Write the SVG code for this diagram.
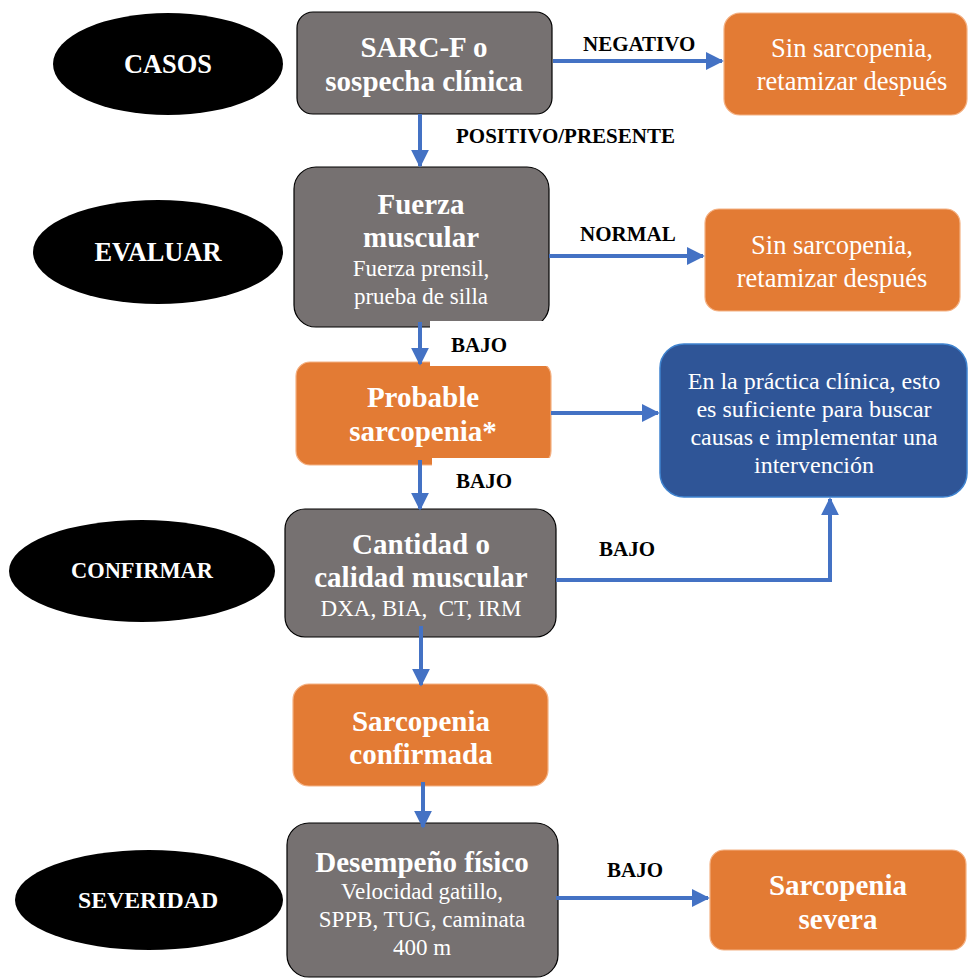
<svg xmlns="http://www.w3.org/2000/svg" width="968" height="979" viewBox="0 0 968 979">
<defs>
<style>
.gray{fill:#767171;stroke:#000;stroke-width:1.2}
.orange{fill:#E37B34;stroke:#F4B183;stroke-width:1.2}
.blue{fill:#2F5597;stroke:#3F83CF;stroke-width:1.5}
.ell{fill:#000}
text{font-family:"Liberation Serif","Times New Roman",serif;text-anchor:middle;fill:#fff}
.t{font-weight:bold;font-size:29px}
.s{font-size:23px}
.o{font-size:26.5px}
.b{font-size:24px}
.e{font-weight:bold;font-size:26.4px}
.lb{font-weight:bold;font-size:21px;fill:#000;text-anchor:start}
.c{fill:none;stroke:#4472C4;stroke-width:4}
</style>
<marker id="ah" viewBox="0 0 10 10" refX="9" refY="5" markerWidth="4.5" markerHeight="4.5" orient="auto" markerUnits="strokeWidth"><path d="M0,0L10,5L0,10z" fill="#4472C4"/></marker>
</defs>
<g id="casos"><ellipse class="ell" cx="168" cy="64" rx="115" ry="51"/><text class="e" x="168" y="73">CASOS</text></g>
<g id="evaluar"><ellipse class="ell" cx="158" cy="252" rx="125" ry="52"/><text class="e" x="158" y="261">EVALUAR</text></g>
<g id="confirmar"><ellipse class="ell" cx="142" cy="571" rx="133" ry="51"/><text class="e" x="142" y="578" style="font-size:22.4px">CONFIRMAR</text></g>
<g id="severidad"><ellipse class="ell" cx="149" cy="900" rx="134" ry="50"/><text class="e" x="148" y="908" style="font-size:23.8px">SEVERIDAD</text></g>

<g id="sarcf"><rect class="gray" x="297" y="12" width="255" height="102" rx="16"/><text class="t" x="424" y="57">SARC-F o</text><text class="t" x="424" y="91">sospecha clínica</text></g>
<g id="sin1"><rect class="orange" x="724" y="13" width="243" height="102" rx="16"/><text class="o" x="852" y="57">Sin sarcopenia,</text><text class="o" x="852" y="90">retamizar después</text></g>
<g id="fuerza"><rect class="gray" x="294" y="167" width="255" height="160" rx="22"/><text class="t" x="421" y="214">Fuerza</text><text class="t" x="421" y="247">muscular</text><text class="s" x="421" y="276">Fuerza prensil,</text><text class="s" x="421" y="304">prueba de silla</text></g>
<g id="sin2"><rect class="orange" x="705" y="209" width="255" height="102" rx="14"/><text class="o" x="832" y="254">Sin sarcopenia,</text><text class="o" x="832" y="287">retamizar después</text></g>
<g id="probable"><rect class="orange" x="296" y="362" width="255" height="103" rx="14"/><text class="t" x="423" y="407">Probable</text><text class="t" x="423" y="441">sarcopenia*</text></g>
<g id="practica"><rect class="blue" x="660" y="344" width="307" height="153" rx="24"/><text class="b" x="814" y="389">En la práctica clínica, esto</text><text class="b" x="814" y="417">es suficiente para buscar</text><text class="b" x="814" y="445">causas e implementar una</text><text class="b" x="814" y="473">intervención</text></g>
<g id="cantidad"><rect class="gray" x="285" y="509" width="271" height="128" rx="20"/><text class="t" x="421" y="554">Cantidad o</text><text class="t" x="421" y="587">calidad muscular</text><text class="s" x="421" y="616">DXA, BIA,&#160; CT, IRM</text></g>
<g id="confirmada"><rect class="orange" x="293" y="684" width="255" height="102" rx="16"/><text class="t" x="421" y="731">Sarcopenia</text><text class="t" x="421" y="764">confirmada</text></g>
<g id="desempeno"><rect class="gray" x="287" y="823" width="271" height="154" rx="22"/><text class="t" x="422" y="872">Desempeño físico</text><text class="s" x="422" y="899">Velocidad gatillo,</text><text class="s" x="422" y="927">SPPB, TUG, caminata</text><text class="s" x="422" y="955">400 m</text></g>
<g id="severa"><rect class="orange" x="710" y="850" width="256" height="100" rx="14"/><text class="t" x="838" y="895">Sarcopenia</text><text class="t" x="838" y="929">severa</text></g>

<g id="masks" fill="#fff"><rect x="430" y="321" width="126" height="45"/><rect x="432" y="458" width="125" height="48"/></g>

<g id="connectors">
<path class="c" d="M553,61H722" marker-end="url(#ah)"/>
<path class="c" d="M420,114V166" marker-end="url(#ah)"/>
<path class="c" d="M549,256H703" marker-end="url(#ah)"/>
<path class="c" d="M420,322V364" marker-end="url(#ah)"/>
<path class="c" d="M551,413H658" marker-end="url(#ah)"/>
<path class="c" d="M420,460V509" marker-end="url(#ah)"/>
<path class="c" d="M556,580H830V499" marker-end="url(#ah)"/>
<path class="c" d="M421,626V685" marker-end="url(#ah)"/>
<path class="c" d="M423,782V827" marker-end="url(#ah)"/>
<path class="c" d="M556,898H708" marker-end="url(#ah)"/>
<text class="lb" x="583" y="51">NEGATIVO</text>
<text class="lb" x="456" y="143">POSITIVO/PRESENTE</text>
<text class="lb" x="580" y="241">NORMAL</text>
<text class="lb" x="451" y="352">BAJO</text>
<text class="lb" x="456" y="488">BAJO</text>
<text class="lb" x="599" y="556">BAJO</text>
<text class="lb" x="607" y="877">BAJO</text>
</g>
</svg>
